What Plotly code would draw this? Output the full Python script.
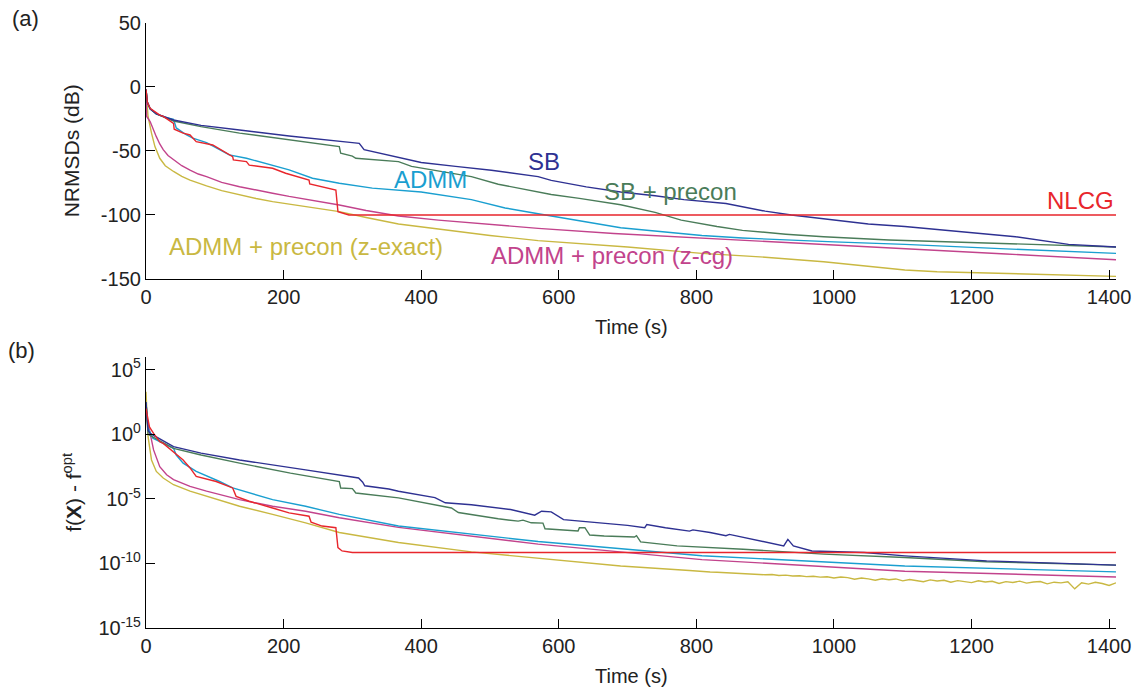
import plotly.graph_objects as go

# ---------------- data: panel (a) NRMSD in dB ----------------
sb_t = [0, 2, 6, 15, 40, 80, 136, 208, 300, 310, 317, 329, 363, 400, 450, 502, 570, 589, 640, 690, 740, 782, 843, 900, 938, 1000, 1050, 1103, 1180, 1264, 1341, 1410]
sb_db = [-2, -12, -17, -21, -25.8, -30, -33.6, -38.3, -43.5, -44, -49, -50.5, -54.4, -59, -62, -65, -70, -73, -78, -82, -85, -88, -91, -97, -100, -104, -107, -109, -113, -117, -123, -125]

sbp_t = [0, 2, 6, 15, 40, 80, 136, 208, 281, 283, 300, 305, 367, 386, 473, 512, 570, 589, 630, 690, 740, 778, 830, 867, 930, 985, 1080, 1163, 1300, 1410]
sbp_db = [-2, -12, -17, -21, -26.6, -31, -36, -41, -46.6, -51.8, -54, -55.7, -58.3, -62, -70, -76, -82, -84, -87, -92, -98, -104, -109, -112, -115, -117, -119.5, -121, -123, -125]

admm_t = [0, 2, 6, 15, 30, 40, 44, 59, 68, 88, 107, 121, 146, 184, 208, 242, 281, 329, 358, 400, 473, 522, 570, 690, 808, 867, 1000, 1103, 1250, 1410]
admm_db = [-2, -12, -17, -21, -24, -25.3, -32, -37.5, -40, -43.5, -49, -53, -55.7, -61, -64.8, -71.3, -75.2, -79, -80, -82, -88, -94.5, -99, -110, -116, -118, -121, -123, -126.5, -130]

nlcg_t = [0, 2, 6, 20, 25, 40, 41, 54, 64, 73, 97, 126, 127, 146, 150, 184, 203, 237, 238, 256, 276, 279, 295, 1410]
nlcg_db = [-2, -12, -16.6, -22, -23, -28.4, -33, -36, -37.5, -42.7, -45.3, -54.4, -57, -58.3, -61, -63.5, -67.4, -72.7, -75.8, -77.9, -80.5, -97.4, -100, -100]

zcg_t = [0, 1, 6, 10, 15, 20, 25, 32, 40, 52, 64, 76, 88, 110, 136, 160, 184, 208, 232, 256, 281, 320, 367, 425, 500, 570, 680, 808, 950, 1103, 1250, 1410]
zcg_db = [-2, -23, -27, -33, -38.8, -44.5, -49, -53.5, -57, -61.5, -65, -68, -70, -74.5, -77.9, -80.7, -83, -85.5, -87.7, -90, -92.2, -96.5, -100.8, -104, -107.5, -110.5, -114.5, -118, -122, -126, -130.5, -135]

zex_t = [0, 1, 3, 8, 13, 20, 28, 40, 52, 64, 76, 88, 110, 136, 160, 184, 208, 232, 256, 281, 320, 367, 425, 500, 570, 700, 808, 900, 985, 1050, 1103, 1150, 1199, 1300, 1410]
zex_db = [-2, -10, -23, -36, -46.6, -55.7, -61.5, -66, -69.8, -72.7, -75.2, -77.3, -81, -84.4, -87.1, -89.6, -91.6, -93.5, -95.5, -97.4, -102, -107, -111, -116, -120, -125, -130, -133, -136.5, -140, -143, -144.3, -145, -146.5, -148]

# ---------------- data: panel (b) log10(f(X) - f_opt) ----------------
sb_t2 = [0, 3, 6, 40, 80, 136, 232, 309, 315, 318, 353, 367, 420, 435, 473, 512, 530, 565, 575, 589, 607, 700, 725, 728, 755, 790, 795, 820, 843, 848, 868, 891, 927, 933, 941, 968, 1044, 1103, 1222, 1410]
sb_lg = [2.5, 0.3, 0.08, -0.95, -1.45, -1.98, -2.75, -3.38, -3.7, -3.98, -4.23, -4.4, -4.9, -5.3, -5.45, -5.69, -5.82, -6.26, -5.95, -6.0, -6.6, -7.05, -7.23, -6.98, -7.23, -7.49, -7.4, -7.6, -7.85, -7.75, -7.98, -8.26, -8.64, -8.13, -8.64, -9.03, -9.15, -9.41, -9.8, -10.13]

sbp_t2 = [0, 3, 40, 80, 136, 210, 281, 283, 300, 305, 367, 444, 454, 512, 541, 548, 560, 577, 580, 628, 630, 638, 645, 666, 710, 713, 719, 749, 772, 868, 985, 1103, 1222, 1410]
sbp_lg = [2.5, 0.0, -1.08, -1.6, -2.23, -3.0, -3.65, -4.15, -4.2, -4.54, -4.92, -5.7, -6.05, -6.54, -6.72, -6.64, -6.85, -6.87, -7.31, -7.49, -7.23, -7.23, -7.8, -7.87, -7.95, -7.85, -8.33, -8.5, -8.64, -8.9, -9.28, -9.54, -9.87, -10.13]

admm_t2 = [0, 3, 10, 30, 40, 44, 54, 73, 107, 126, 184, 232, 281, 367, 473, 512, 570, 808, 1103, 1410]
admm_lg = [2.5, 0.5, -0.3, -0.8, -1.08, -1.6, -2.23, -2.87, -3.65, -4.15, -5.05, -5.57, -6.2, -7.1, -7.7, -7.95, -8.3, -9.4, -10.2, -10.65]

nlcg_t2 = [0, 5, 11, 20, 25, 40, 54, 64, 73, 102, 126, 131, 150, 184, 208, 237, 240, 256, 276, 279, 285, 300, 1410]
nlcg_lg = [2.0, 0.58, 0.08, -0.57, -0.7, -1.34, -1.98, -2.6, -3.26, -3.65, -4.15, -4.8, -5.18, -5.7, -6.08, -6.34, -6.8, -7.1, -7.23, -8.77, -9.03, -9.15, -9.15]

zcg_t2 = [0, 3, 11, 20, 30, 40, 64, 88, 136, 184, 232, 281, 367, 473, 570, 808, 1103, 1410]
zcg_lg = [1.5, 0.85, -1.2, -2.5, -3.13, -3.5, -4.03, -4.4, -5.05, -5.57, -5.95, -6.46, -7.2, -7.9, -8.5, -9.7, -10.6, -11.05]

zex_t2 = [0, 3, 8, 15, 25, 40, 64, 88, 136, 184, 232, 281, 367, 473, 570, 690, 790,
          800, 810, 820, 830, 840, 850, 860, 870, 880, 890, 900, 910, 920, 930, 940, 950, 960, 970, 980, 990,
          1000, 1010, 1020, 1030, 1040, 1050, 1060, 1070, 1080, 1090, 1100, 1110, 1120, 1130, 1140, 1150, 1160, 1170, 1180, 1190,
          1200, 1210, 1220, 1230, 1240, 1250, 1260, 1270, 1280, 1290, 1300, 1310, 1320, 1330, 1340, 1350, 1360, 1370, 1380, 1390, 1400, 1410]
zex_lg = [3.3, -0.18, -1.98, -2.87, -3.38, -3.9, -4.4, -4.8, -5.57, -6.2, -6.85, -7.6, -8.38, -9.1, -9.6, -10.2, -10.55,
          -10.60, -10.62, -10.66, -10.68, -10.71, -10.73, -10.78, -10.76, -10.83, -10.82, -10.88, -10.85, -10.93, -10.90, -10.97, -10.95, -11.02, -10.99, -11.06, -11.03,
          -11.12, -11.05, -11.10, -11.22, -11.13, -11.19, -11.30, -11.18, -11.26, -11.20, -11.35, -11.24, -11.31, -11.42, -11.27, -11.36, -11.30, -11.45, -11.33, -11.40,
          -11.48, -11.34, -11.43, -11.38, -11.55, -11.41, -11.47, -11.37, -11.52, -11.44, -11.40, -11.58, -11.45, -11.50, -11.42, -11.97, -11.49, -11.60, -11.46, -11.55, -11.70, -11.50]

x_ticks = [0, 200, 400, 600, 800, 1000, 1200, 1400]
y_ticks_a = [-150, -100, -50, 0, 50]
y_ticks_b = [-15, -10, -5, 0, 5]

# label text / positions for panel (a)
labels = [
    ("SB", 578, -58, "#2e3192"),
    ("ADMM", 414, -72.5, "#1a9fd0"),
    ("SB + precon", 762, -82, "#4a7c59"),
    ("NLCG", 1359, -89, "#e8262c"),
    ("ADMM + precon (z-exact)", 233, -125, "#c9b842"),
    ("ADMM + precon (z-cg)", 677, -132, "#c2438c"),
]

C_SB, C_SBP, C_ADMM, C_NLCG, C_ZCG, C_ZEX = "#2e3192", "#4a7c59", "#1a9fd0", "#e8262c", "#c2438c", "#c9b842"

FONT = "Liberation Sans, Arial, Helvetica, sans-serif"
fig = go.Figure()

series_a = [(zex_t, zex_db, C_ZEX), (zcg_t, zcg_db, C_ZCG), (admm_t, admm_db, C_ADMM),
            (sbp_t, sbp_db, C_SBP), (sb_t, sb_db, C_SB), (nlcg_t, nlcg_db, C_NLCG)]
for t, v, c in series_a:
    fig.add_trace(go.Scatter(x=t, y=v, mode="lines", line=dict(color=c, width=1.4),
                             xaxis="x", yaxis="y", showlegend=False, hoverinfo="skip"))

series_b = [(zex_t2, zex_lg, C_ZEX), (zcg_t2, zcg_lg, C_ZCG), (admm_t2, admm_lg, C_ADMM),
            (sbp_t2, sbp_lg, C_SBP), (sb_t2, sb_lg, C_SB), (nlcg_t2, nlcg_lg, C_NLCG)]
for t, v, c in series_b:
    fig.add_trace(go.Scatter(x=t, y=[10 ** e for e in v], mode="lines", line=dict(color=c, width=1.4),
                             xaxis="x2", yaxis="y2", showlegend=False, hoverinfo="skip"))

axis_common = dict(showline=True, linecolor="black", linewidth=1.2, ticks="inside", ticklen=9,
                   tickcolor="black", tickwidth=1.2, showgrid=False, zeroline=False,
                   tickfont=dict(family=FONT, size=20, color="#222"))

fig.update_layout(
    width=1143, height=694,
    margin=dict(l=146, r=23, t=23, b=66),
    paper_bgcolor="white", plot_bgcolor="white",
    font=dict(family=FONT, color="#222"),
    xaxis=dict(domain=[0, 1], anchor="y", range=[0, 1410], tickvals=x_ticks, **axis_common),
    yaxis=dict(domain=[0.5769, 1], anchor="x", range=[-150, 50], tickvals=y_ticks_a,
               ticktext=[str(v) for v in y_ticks_a], **axis_common),
    xaxis2=dict(domain=[0, 1], anchor="y2", range=[0, 1410], tickvals=x_ticks, **axis_common),
    yaxis2=dict(domain=[0, 0.448], anchor="x2", type="log", range=[-15, 6],
                tickvals=[10 ** e for e in y_ticks_b],
                ticktext=["10<sup>%d</sup>" % e for e in y_ticks_b], **axis_common),
)

ann = []
for txt, x, y, c in labels:
    ann.append(dict(text=txt, x=x, y=y, xref="x", yref="y", showarrow=False,
                    font=dict(family=FONT, size=24, color=c), xanchor="center", yanchor="middle"))
# axis titles
ann.append(dict(text="Time (s)", x=0.5, y=0.5769, xref="paper", yref="paper", yshift=-48,
                showarrow=False, font=dict(family=FONT, size=20, color="#222"), yanchor="middle"))
ann.append(dict(text="Time (s)", x=0.5, y=0, xref="paper", yref="paper", yshift=-48,
                showarrow=False, font=dict(family=FONT, size=20, color="#222"), yanchor="middle"))
ann.append(dict(text="NRMSDs (dB)", x=(72 - 146) / 974, y=(1 + 0.5769) / 2, xref="paper", yref="paper",
                textangle=-90, showarrow=False, font=dict(family=FONT, size=21, color="#222"),
                xanchor="center", yanchor="middle"))
ann.append(dict(text="f(<b>X</b>) - f<sup>opt</sup>", x=(72 - 146) / 974, y=0.448 / 2, xref="paper", yref="paper",
                textangle=-90, showarrow=False, font=dict(family=FONT, size=21, color="#222"),
                xanchor="center", yanchor="middle"))
# panel letters
ann.append(dict(text="(a)", x=(25 - 146) / 974, y=1, yshift=5, xref="paper", yref="paper",
                showarrow=False, font=dict(family=FONT, size=22, color="#222"), xanchor="center", yanchor="middle"))
ann.append(dict(text="(b)", x=(21 - 146) / 974, y=(628 - 350) / 605, xref="paper", yref="paper",
                showarrow=False, font=dict(family=FONT, size=22, color="#222"), xanchor="center", yanchor="middle"))
fig.update_layout(annotations=ann)

fig.write_html("out.html")
